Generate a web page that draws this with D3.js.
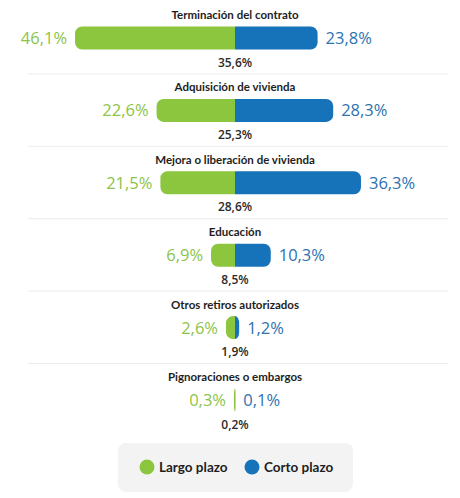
<!DOCTYPE html>
<html><head><meta charset="utf-8">
<script src="https://cdn.jsdelivr.net/npm/d3@7"></script>
<style>
html,body{margin:0;padding:0;background:#fff;}
svg{display:block;font-family:"Open Sans",sans-serif;}
</style></head>
<body>
<svg id="chart" width="460" height="498"></svg>
<script>
const categories = ["Terminación del contrato","Adquisición de vivienda","Mejora o liberación de vivienda","Educación","Otros retiros autorizados","Pignoraciones o embargos"];
const largoPlazo = [46.1, 22.6, 21.5, 6.9, 2.6, 0.3];
const cortoPlazo = [23.8, 28.3, 36.3, 10.3, 1.2, 0.1];
const total = [35.6, 25.3, 28.6, 8.5, 1.9, 0.2];
const seriesNames = ["Largo plazo","Corto plazo"];

const GREEN = "#8cc63e", BLUE = "#1673b9";
const GREEN_T = "#8cc449", BLUE_T = "#2e72b0";
const fmt = v => d3.format(".1f")(v).replace(".", ",") + "%";

const svg = d3.select("#chart");
const cx = 235;
const x = d3.scaleLinear().domain([0, 50]).range([0, 173.5]);
const y = d3.scalePoint().domain(categories).range([15, 377]);
const barH = 23;

function halfBar(x0, w, left) {
  const rx = Math.min(7, w), ry = 7, h = barH;
  if (w <= 0) return "";
  if (left) {
    return `M${x0 + w},0 H${x0 + rx} A${rx},${ry} 0 0 0 ${x0},${ry} V${h - ry} A${rx},${ry} 0 0 0 ${x0 + rx},${h} H${x0 + w} Z`;
  } else {
    return `M${x0},0 H${x0 + w - rx} A${rx},${ry} 0 0 1 ${x0 + w},${ry} V${h - ry} A${rx},${ry} 0 0 1 ${x0 + w - rx},${h} H${x0} Z`;
  }
}

// separators
svg.selectAll("line.sep").data(categories.slice(1)).join("line")
  .attr("class","sep")
  .attr("x1", 28).attr("x2", 448)
  .attr("y1", d => y(d) - 13.5).attr("y2", d => y(d) - 13.5)
  .attr("stroke", "#ebebeb").attr("stroke-width", 1);

const rows = svg.selectAll("g.row").data(categories).join("g")
  .attr("class","row")
  .attr("transform", d => `translate(0,${y(d)})`);

rows.append("text")
  .attr("x", cx).attr("y", 4)
  .attr("text-anchor","middle")
  .attr("font-family", "Lato, sans-serif")
  .attr("font-size", 11.5).attr("font-weight", 700).attr("fill", "#1e1e1e")
  .text(d => d);

rows.append("path")
  .attr("transform", `translate(0,${23 - barH/2})`)
  .attr("fill", GREEN)
  .attr("d", (d,i) => halfBar(cx - x(largoPlazo[i]), x(largoPlazo[i]), true));

rows.append("path")
  .attr("transform", `translate(0,${23 - barH/2})`)
  .attr("fill", BLUE)
  .attr("d", (d,i) => halfBar(cx, x(cortoPlazo[i]), false));

rows.append("text")
  .attr("x", (d,i) => cx - x(largoPlazo[i]) - 8).attr("y", 29)
  .attr("text-anchor","end")
  .attr("font-size", 16.5).attr("font-weight", 500).attr("fill", GREEN_T)
  .text((d,i) => fmt(largoPlazo[i]));

rows.append("text")
  .attr("x", (d,i) => cx + x(cortoPlazo[i]) + 8).attr("y", 29)
  .attr("text-anchor","start")
  .attr("font-size", 16.5).attr("font-weight", 500).attr("fill", BLUE_T)
  .text((d,i) => fmt(cortoPlazo[i]));

rows.append("text")
  .attr("x", cx).attr("y", 51.5)
  .attr("text-anchor","middle")
  .attr("font-size", 12).attr("font-weight", 600).attr("fill", "#2a2a2a")
  .text((d,i) => fmt(total[i]));

// legend
const lg = svg.append("g");
lg.append("rect").attr("x", 118).attr("y", 443).attr("width", 235).attr("height", 49)
  .attr("rx", 8).attr("fill", "#f3f3f3");
const lx = d3.scaleOrdinal().domain(seriesNames).range([147, 252]);
const lc = d3.scaleOrdinal().domain(seriesNames).range([GREEN, BLUE]);
const items = lg.selectAll("g.item").data(seriesNames).join("g")
  .attr("transform", d => `translate(${lx(d)},467)`);
items.append("circle").attr("r", 7.5).attr("fill", d => lc(d));
items.append("text").attr("x", 12).attr("y", 4.5)
  .attr("font-family", "Lato, sans-serif")
  .attr("font-size", 13.5).attr("font-weight", 700).attr("fill", "#1e1e1e")
  .text(d => d);
</script>
</body></html>
